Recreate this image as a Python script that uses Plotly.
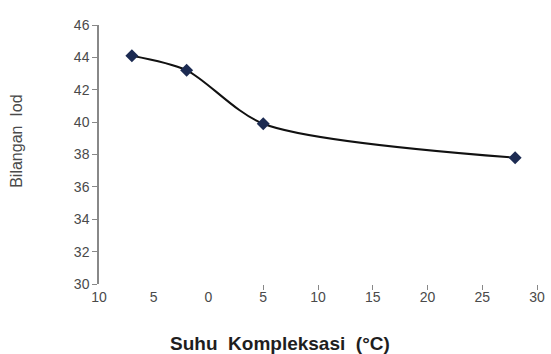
import plotly.graph_objects as go

temps = [-7, -2, 5, 28]
iodine = [44.1, 43.2, 39.9, 37.8]
x_tickvals = [-10, -5, 0, 5, 10, 15, 20, 25, 30]
x_ticktext = ["10", "5", "0", "5", "10", "15", "20", "25", "30"]
x_markvals = [5, 10, 15, 20, 25, 30]
y_tickvals = [30, 32, 34, 36, 38, 40, 42, 44, 46]

FONT = "Liberation Sans, Arial, sans-serif"

fig = go.Figure()
fig.add_trace(go.Scatter(
    x=temps, y=iodine, mode="lines+markers",
    line=dict(color="#111111", width=2, shape="spline", smoothing=0.8),
    marker=dict(symbol="diamond", size=10, color="#1c2b52"),
    showlegend=False,
))
# invisible trace to carry the secondary tick axis
fig.add_trace(go.Scatter(x=[temps[0]], y=[iodine[0]], xaxis="x2", mode="markers",
                         marker=dict(opacity=0), showlegend=False, hoverinfo="skip"))

fig.update_layout(
    width=551, height=354,
    margin=dict(l=99, r=14, t=25, b=70, autoexpand=False),
    paper_bgcolor="white", plot_bgcolor="white",
    font=dict(family=FONT, color="#4a4a4a"),
    xaxis=dict(range=[-10, 30], tickvals=x_tickvals, ticktext=x_ticktext,
               showgrid=False, zeroline=False, showline=False, ticks="",
               tickfont=dict(size=14, color="#4a4a4a"), ticklabelstandoff=3),
    xaxis2=dict(range=[-10, 30], overlaying="x", side="bottom", anchor="y",
                tickvals=x_markvals, showticklabels=False, ticks="outside",
                ticklen=5, tickcolor="#888888", showgrid=False, zeroline=False,
                showline=False),
    yaxis=dict(range=[30, 46], tickvals=y_tickvals, showgrid=False, zeroline=False,
               showline=True, linecolor="#888888", linewidth=1.5,
               ticks="outside", ticklen=5, tickcolor="#888888",
               tickfont=dict(size=14, color="#4a4a4a")),
    annotations=[
        dict(text="<b>Suhu  Kompleksasi  (°C)</b>", xref="paper", yref="paper",
             x=0.413, y=-0.23, yanchor="middle", xanchor="center", showarrow=False,
             font=dict(size=19, color="#1e1e1e", family=FONT)),
        dict(text="Bilangan  Iod", xref="paper", yref="paper", textangle=-90,
             x=-0.19, y=0.552, xanchor="center", yanchor="middle", showarrow=False,
             font=dict(size=16, color="#4a4a4a", family=FONT)),
    ],
)

fig.write_html("out.html", config={"displayModeBar": False},
               post_script="document.body.style.margin='0';document.body.style.overflow='hidden';")
